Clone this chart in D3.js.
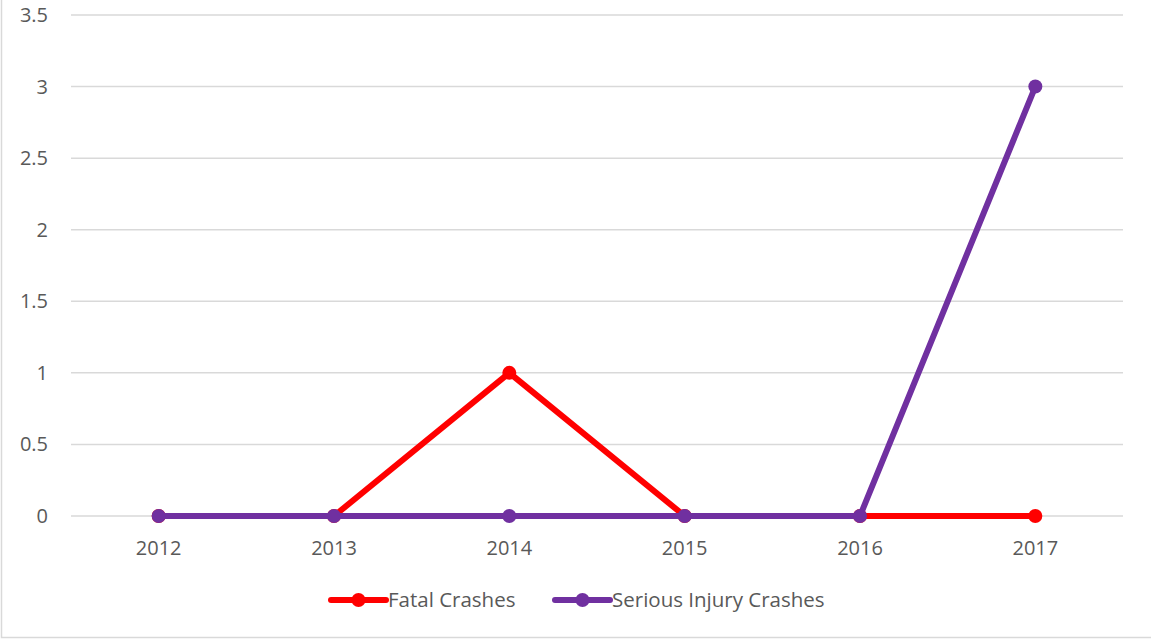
<!DOCTYPE html>
<html>
<head>
<meta charset="utf-8">
<script src="https://cdn.jsdelivr.net/npm/d3@7"></script>
<style>
  body { margin: 0; background: #fff; }
  svg { display: block; }
  text { font-family: "Open Sans", sans-serif; fill: #595959; }
</style>
</head>
<body>
<div id="chart"></div>
<script>
const years = ["2012", "2013", "2014", "2015", "2016", "2017"];
const fatal = [0, 0, 1, 0, 0, 0];
const serious = [0, 0, 0, 0, 0, 3];
const yTicks = [0, 0.5, 1, 1.5, 2, 2.5, 3, 3.5];

var width = 1151, height = 639;
var margin = {left: 71, right: 28, top: 15, bottom: 123};

var svg = d3.select("#chart").append("svg")
    .attr("width", width)
    .attr("height", height);

// outer chart border (only left and bottom visible in the picture)
svg.append("path")
    .attr("d", "M1.5,0V" + (height - 1.5) + "H" + width)
    .attr("fill", "none")
    .attr("stroke", "#d9d9d9")
    .attr("stroke-width", 1.5);

var x = d3.scaleBand().domain(years).range([margin.left, width - margin.right]);
var y = d3.scaleLinear().domain([0, 3.5]).range([height - margin.bottom, margin.top]);

// gridlines
svg.append("g").selectAll("line")
    .data(yTicks)
  .enter().append("line")
    .attr("x1", margin.left).attr("x2", width - margin.right)
    .attr("y1", function(d) { return y(d); })
    .attr("y2", function(d) { return y(d); })
    .attr("stroke", "#d9d9d9")
    .attr("stroke-width", 1.5);

// y labels
svg.append("g").selectAll("text")
    .data(yTicks)
  .enter().append("text")
    .attr("x", 48)
    .attr("y", function(d) { return y(d); })
    .attr("dy", "0.35em")
    .attr("text-anchor", "end")
    .style("font-size", "20px")
    .text(function(d) { return d; });

// x labels
svg.append("g").selectAll("text")
    .data(years)
  .enter().append("text")
    .attr("x", function(d) { return x(d) + x.bandwidth() / 2; })
    .attr("y", y(0) + 32)
    .attr("dy", "0.35em")
    .attr("text-anchor", "middle")
    .style("font-size", "20px")
    .text(function(d) { return d; });

var series = [
  {name: "Fatal Crashes", values: fatal, color: "#ff0000"},
  {name: "Serious Injury Crashes", values: serious, color: "#7030a0"}
];

var line = d3.line()
    .x(function(d, i) { return x(years[i]) + x.bandwidth() / 2; })
    .y(function(d) { return y(d); });

series.forEach(function(s) {
  var g = svg.append("g");
  g.append("path")
      .datum(s.values)
      .attr("d", line)
      .attr("fill", "none")
      .attr("stroke", s.color)
      .attr("stroke-width", 6)
      .attr("stroke-linejoin", "round")
      .attr("stroke-linecap", "round");
  g.selectAll("circle")
      .data(s.values)
    .enter().append("circle")
      .attr("cx", function(d, i) { return x(years[i]) + x.bandwidth() / 2; })
      .attr("cy", function(d) { return y(d); })
      .attr("r", 7)
      .attr("fill", s.color);
});

// legend
var legendX = [331, 555];
var legend = svg.append("g").selectAll("g")
    .data(series)
  .enter().append("g")
    .attr("transform", function(d, i) { return "translate(" + legendX[i] + ",600)"; });
legend.append("line")
    .attr("x1", 0).attr("x2", 55)
    .attr("stroke", function(d) { return d.color; })
    .attr("stroke-width", 6)
    .attr("stroke-linecap", "round");
legend.append("circle")
    .attr("cx", 27.5).attr("r", 7)
    .attr("fill", function(d) { return d.color; });
legend.append("text")
    .attr("x", 57)
    .attr("dy", "0.35em")
    .style("font-size", "20.5px")
    .text(function(d) { return d.name; });
</script>
</body>
</html>
